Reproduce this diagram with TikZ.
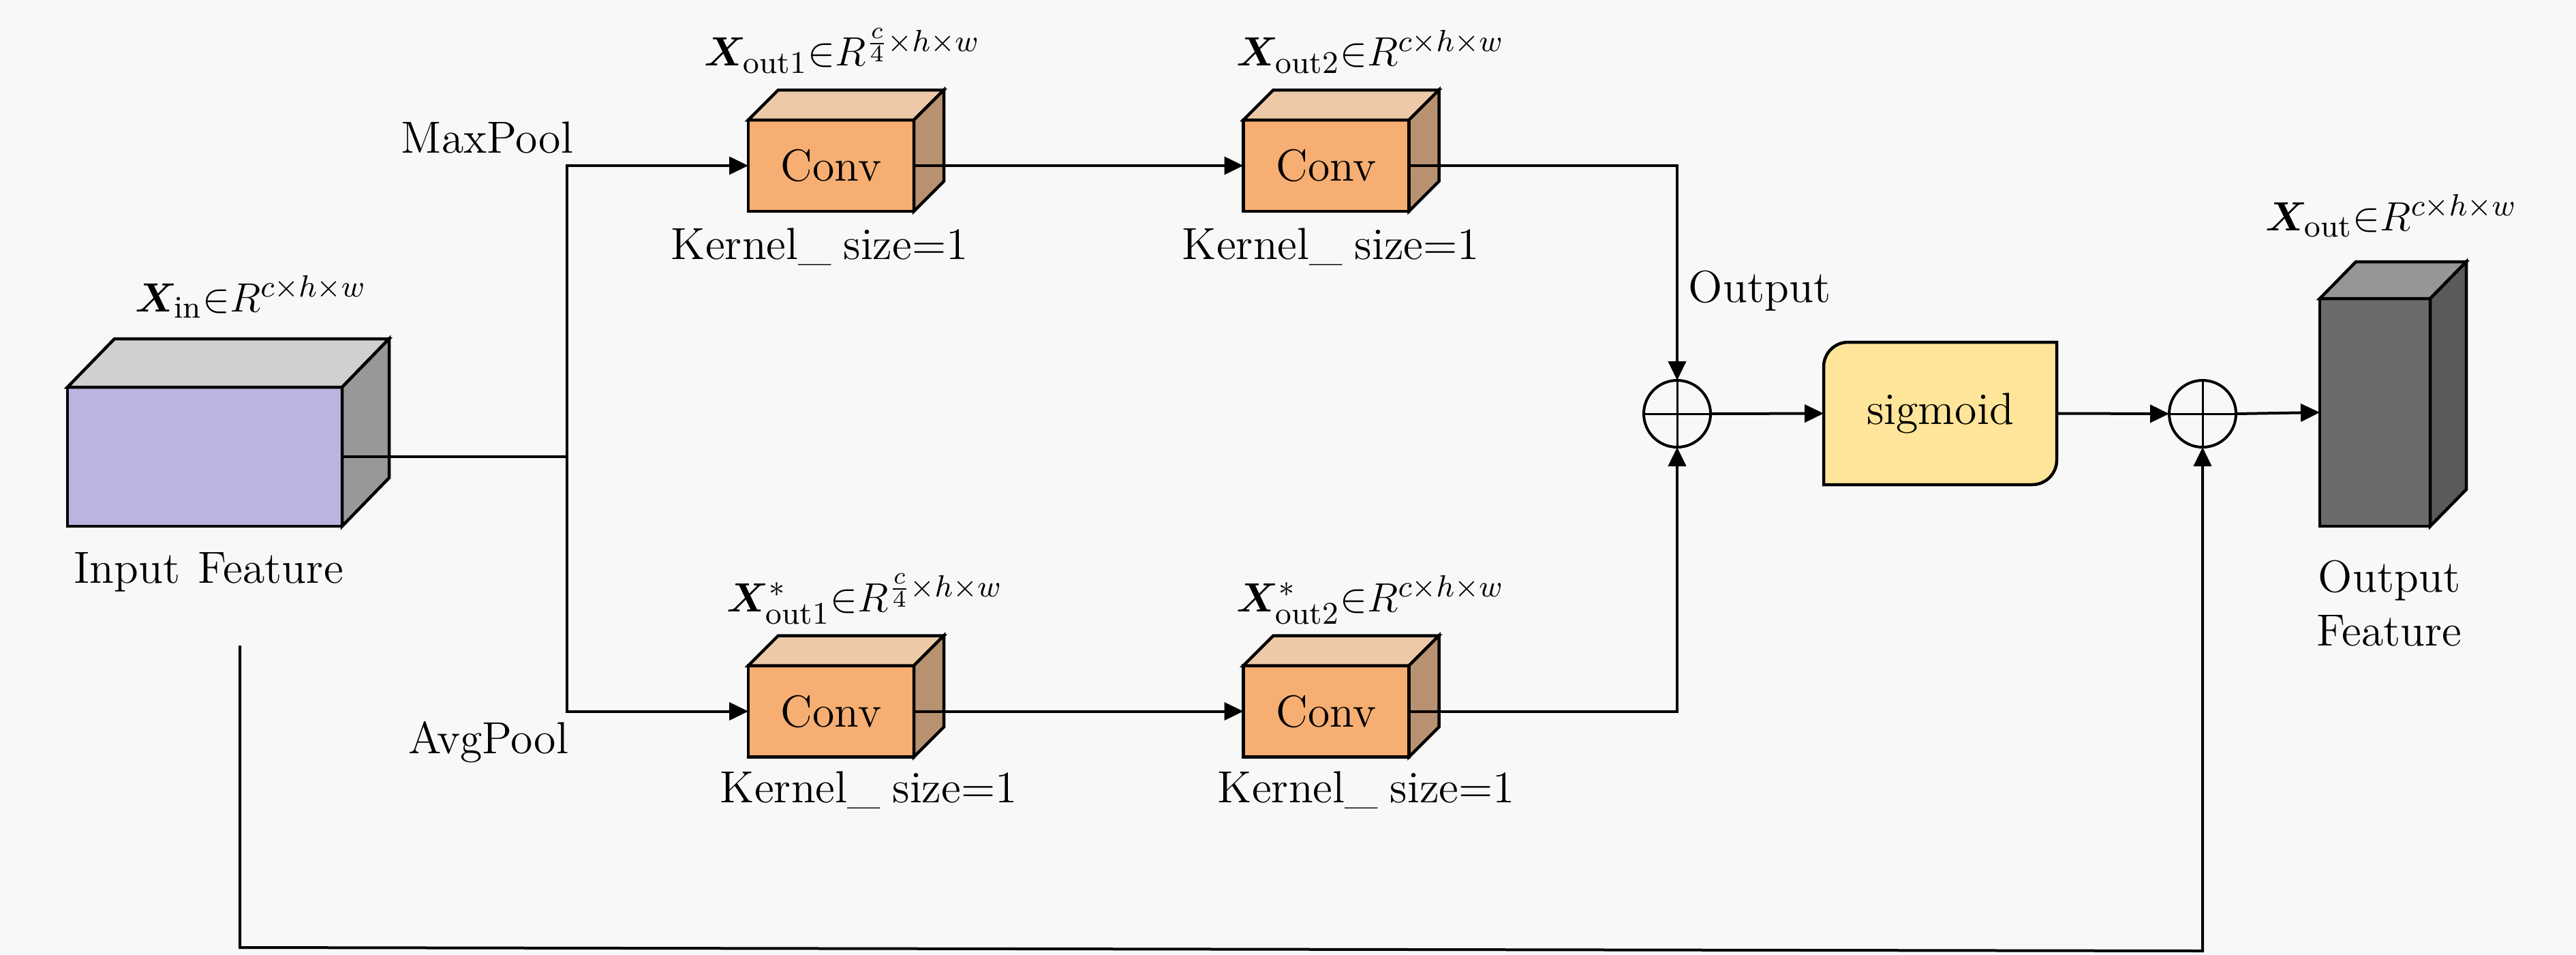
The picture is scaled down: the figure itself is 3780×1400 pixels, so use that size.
\documentclass[tikz,border=0pt]{standalone}
\usepackage{amsmath,bm}
\usetikzlibrary{arrows.meta}
\definecolor{bgc}{RGB}{248,248,248}
\definecolor{inFront}{RGB}{186,181,224}
\definecolor{inTop}{RGB}{208,208,208}
\definecolor{inSide}{RGB}{152,152,152}
\definecolor{convFront}{RGB}{246,174,114}
\definecolor{convTop}{RGB}{237,201,168}
\definecolor{convSide}{RGB}{184,146,112}
\definecolor{sigFill}{RGB}{255,229,153}
\definecolor{outFront}{RGB}{107,107,107}
\definecolor{outTop}{RGB}{150,150,150}
\definecolor{outSide}{RGB}{90,90,90}
\pgfdeclarelayer{bgl}
\pgfsetlayers{bgl,main}
\newcommand{\mycubefaces}[5]{%
  \draw[face, fill=#4] (#1.north west) -- ([shift={(#2,#3)}]#1.north west) -- ([shift={(#2,#3)}]#1.north east) -- (#1.north east) -- cycle;
  \draw[face, fill=#5] (#1.north east) -- ([shift={(#2,#3)}]#1.north east) -- ([shift={(#2,#3)}]#1.south east) -- (#1.south east) -- cycle;}
\newcommand{\kerneltext}{Kernel\_\kern3.5pt size=1}
\begin{document}
\begin{tikzpicture}[x=0.2pt, y=-0.2pt,
  txt/.style={font=\fontsize{13.2}{15.8}\selectfont, inner sep=0pt, outer sep=0pt},
  lbl/.style={txt, anchor=base},
  face/.style={draw=black, line width=0.9pt, line join=miter},
  frontbox/.style={face, txt},
  conn/.style={draw=black, line width=0.8pt},
  arr/.style={conn, -{Triangle[length=5.6pt,width=5.2pt]}},
  oplus/.style={circle, draw=black, line width=0.8pt, minimum size=19.6pt, inner sep=0pt, outer sep=0pt}]

\begin{pgfonlayer}{bgl}
\fill[bgc] (0,0) rectangle (3780,1400);
\end{pgfonlayer}

% cubes
\node[frontbox, fill=inFront, minimum width=80.6pt, minimum height=40.8pt] (in) at (300.5,670) {};
\mycubefaces{in}{69}{-71}{inTop}{inSide}
\node[frontbox, fill=convFront, minimum width=48.6pt, minimum height=26.8pt] (c1t) at (1219.5,243) {\raisebox{-1pt}{Conv}};
\mycubefaces{c1t}{44}{-44}{convTop}{convSide}
\node[frontbox, fill=convFront, minimum width=48.6pt, minimum height=26.8pt] (c2t) at (1946,243) {\raisebox{-1pt}{Conv}};
\mycubefaces{c2t}{44}{-44}{convTop}{convSide}
\node[frontbox, fill=convFront, minimum width=48.6pt, minimum height=26.8pt] (c1b) at (1219.5,1043.5) {\raisebox{-1pt}{Conv}};
\mycubefaces{c1b}{44}{-44}{convTop}{convSide}
\node[frontbox, fill=convFront, minimum width=48.6pt, minimum height=26.8pt] (c2b) at (1946,1043.5) {\raisebox{-1pt}{Conv}};
\mycubefaces{c2b}{44}{-44}{convTop}{convSide}
\node[frontbox, fill=outFront, minimum width=32.4pt, minimum height=66.8pt] (out) at (3485,605) {};
\mycubefaces{out}{53}{-54}{outTop}{outSide}

% sigmoid
\node[txt, minimum width=68.4pt, minimum height=41.8pt] (sg) at (2847,606.5) {\raisebox{-1.4pt}{sigmoid}};
\begin{pgfonlayer}{bgl}
\draw[face, fill=sigFill] (sg.south west) -- (sg.west) [rounded corners=7.2pt] -- (sg.north west) -- (sg.north) [sharp corners] -- (sg.north east) -- (sg.east) [rounded corners=7.2pt] -- (sg.south east) -- (sg.south) [sharp corners] -- cycle;
\end{pgfonlayer}

% oplus nodes
\node[oplus] (p1) at (2461,607) {};
\draw[line width=0.6pt] (p1.north) -- (p1.south) (p1.west) -- (p1.east);
\node[oplus] (p2) at (3232,607) {};
\draw[line width=0.6pt] (p2.north) -- (p2.south) (p2.west) -- (p2.east);

% labels
\node[lbl] (xin) at (368,457) {$\bm{X}_{\text{in}}{\in}R^{c\times h\times w}$};
\node[lbl] (xo1) at (1236,97) {$\bm{X}_{\text{out1}}{\in}R^{\frac{c}{4}\times h\times w}$};
\node[lbl] (xo2) at (2011,97) {$\bm{X}_{\text{out2}}{\in}R^{c\times h\times w}$};
\node[lbl] (xs1) at (1269,897) {$\bm{X}^{*}_{\text{out1}}{\in}R^{\frac{c}{4}\times h\times w}$};
\node[lbl] (xs2) at (2011,897) {$\bm{X}^{*}_{\text{out2}}{\in}R^{c\times h\times w}$};
\node[lbl] (xout) at (3509,338) {$\bm{X}_{\text{out}}{\in}R^{c\times h\times w}$};
\node[lbl] (k1t) at (1203,380) {\kerneltext};
\node[lbl] (k2t) at (1953,380) {\kerneltext};
\node[lbl] (k1b) at (1275,1177) {\kerneltext};
\node[lbl] (k2b) at (2005,1177) {\kerneltext};
\node[lbl] (maxp) at (715,224) {MaxPool};
\node[lbl] (avgp) at (717,1105) {AvgPool};
\node[lbl] (outl) at (2582,443) {Output};
\node[lbl] (inf) at (306,855) {Input\hspace{0.4em}Feature};
\node[txt, anchor=north, align=center] (outf) at (3506,822) {Output\\Feature};

% connectors
\coordinate (br) at (832,670);
\draw[conn] (in.east) -- (br);
\draw[arr] (br) |- (c1t.west);
\draw[arr] (br) |- (c1b.west);
\draw[arr] (c1t.east) -- (c2t.west);
\draw[arr] (c1b.east) -- (c2b.west);
\draw[arr] (c2t.east) -| (p1.north);
\draw[arr] (c2b.east) -| (p1.south);
\draw[arr] (p1.east) -- (sg.west);
\draw[arr] (sg.east) -- (p2.west);
\draw[arr] (p2.east) -- (out.west);
\coordinate (s0) at (352,947);
\coordinate (s1) at (352,1390);
\coordinate (s2) at (3232,1395);
\draw[arr] (s0) -- (s1) -- (s2) -- (p2.south);
\end{tikzpicture}
\end{document}
